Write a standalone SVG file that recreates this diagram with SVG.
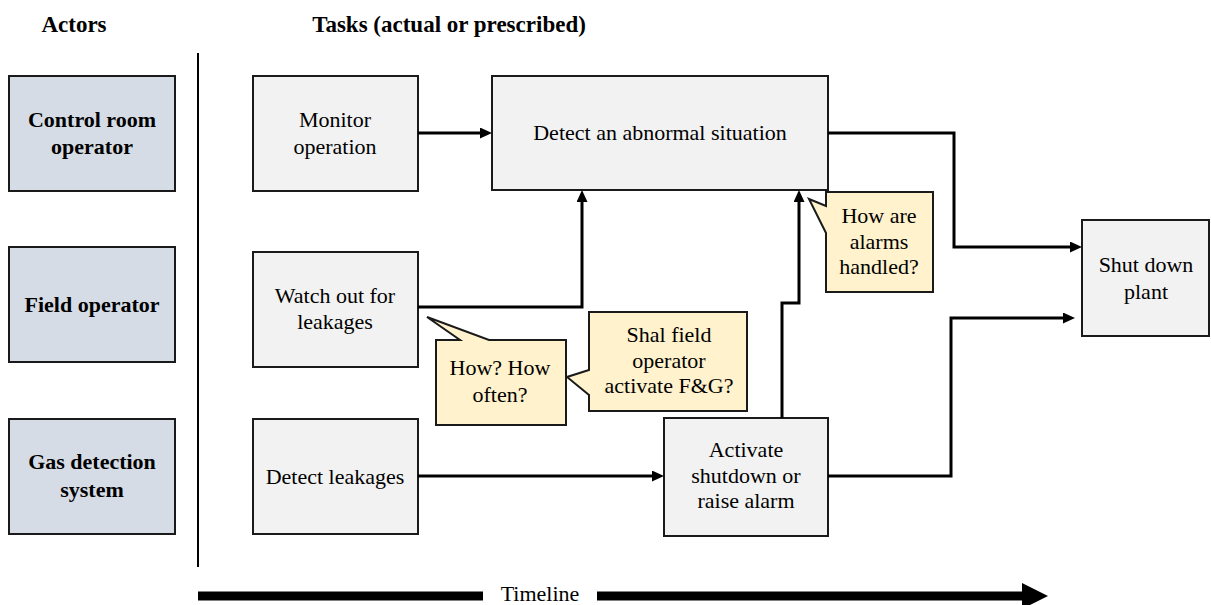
<svg xmlns="http://www.w3.org/2000/svg" width="1211" height="605" viewBox="0 0 1211 605">
<style>
.t{font-family:"Liberation Serif","Times New Roman",serif;font-size:22px;fill:#000;text-anchor:middle}
.b{font-weight:bold}
.h{font-family:"Liberation Serif","Times New Roman",serif;font-size:23px;font-weight:bold;fill:#000;text-anchor:middle}
.actor{fill:#d6dce5;stroke:#1a1a1a;stroke-width:2}
.task{fill:#f2f2f2;stroke:#1a1a1a;stroke-width:2}
.note{fill:#fff2cc;stroke:#1a1a1a;stroke-width:2;stroke-linejoin:miter}
.conn{fill:none;stroke:#000;stroke-width:3}
</style>
<defs>
<marker id="arr" viewBox="0 0 12 11" refX="5" refY="5.5" markerWidth="12" markerHeight="11" markerUnits="userSpaceOnUse" orient="auto">
<path d="M0,0 L12,5.5 L0,11 z" fill="#000"/>
</marker>
</defs>
<rect width="1211" height="605" fill="#fff"/>
<g id="headings">
<text class="h" x="74" y="32">Actors</text>
<text class="h" x="449" y="32">Tasks (actual or prescribed)</text>
</g>
<line id="divider" x1="198" y1="53" x2="198" y2="567" stroke="#000" stroke-width="2"/>
<g id="actor-control-room">
<rect class="actor" x="9" y="76" width="166" height="115"/>
<text class="t b" x="92" y="127">Control room</text>
<text class="t b" x="92" y="154">operator</text>
</g>
<g id="actor-field">
<rect class="actor" x="9" y="247" width="166" height="115"/>
<text class="t b" x="92" y="312">Field operator</text>
</g>
<g id="actor-gas">
<rect class="actor" x="9" y="419" width="166" height="115"/>
<text class="t b" x="92" y="469">Gas detection</text>
<text class="t b" x="92" y="497">system</text>
</g>
<g id="task-monitor">
<rect class="task" x="253" y="76" width="165" height="115"/>
<text class="t" x="335" y="127">Monitor</text>
<text class="t" x="335" y="154">operation</text>
</g>
<g id="task-watch">
<rect class="task" x="253" y="252" width="165" height="115"/>
<text class="t" x="335" y="303">Watch out for</text>
<text class="t" x="335" y="329">leakages</text>
</g>
<g id="task-detect-leakages">
<rect class="task" x="253" y="419" width="165" height="115"/>
<text class="t" x="335" y="484">Detect leakages</text>
</g>
<g id="task-detect-abnormal">
<rect class="task" x="492" y="76" width="336" height="114"/>
<text class="t" x="660" y="140">Detect an abnormal situation</text>
</g>
<g id="task-activate">
<rect class="task" x="664" y="418" width="164" height="118"/>
<text class="t" x="746" y="457">Activate</text>
<text class="t" x="746" y="483">shutdown or</text>
<text class="t" x="746" y="508">raise alarm</text>
</g>
<g id="task-shutdown">
<rect class="task" x="1082" y="220" width="127" height="116"/>
<text class="t" x="1146" y="272">Shut down</text>
<text class="t" x="1146" y="299">plant</text>
</g>
<g id="connectors">
<path class="conn" marker-end="url(#arr)" d="M418 133 H485"/>
<path class="conn" marker-end="url(#arr)" d="M418 307 H582 V197"/>
<path class="conn" marker-end="url(#arr)" d="M782 418 V303 H799 V197"/>
<path class="conn" marker-end="url(#arr)" d="M418 476 H657"/>
<path class="conn" marker-end="url(#arr)" d="M828 133 H954 V247 H1075"/>
<path class="conn" marker-end="url(#arr)" d="M828 476 H951 V318 H1068"/>
</g>
<g id="note-how-often">
<path class="note" d="M436 340 H460 L427 317 L489 340 H566 V425 H436 Z"/>
<text class="t" x="500" y="375">How? How</text>
<text class="t" x="500" y="402">often?</text>
</g>
<g id="note-fg">
<path class="note" d="M589 312 H747 V411 H589 V395 L567 377 L589 370 Z"/>
<text class="t" x="669" y="342">Shal field</text>
<text class="t" x="669" y="368">operator</text>
<text class="t" x="669" y="393">activate F&amp;G?</text>
</g>
<g id="note-alarms">
<path class="note" d="M826 192 H933 V292 H826 V233 L809 199 L826 206 Z"/>
<text class="t" x="879" y="223">How are</text>
<text class="t" x="879" y="249">alarms</text>
<text class="t" x="879" y="274">handled?</text>
</g>
<g id="timeline">
<rect x="198" y="591.5" width="285" height="9" fill="#000"/>
<text class="t" x="540" y="601">Timeline</text>
<rect x="597" y="591.5" width="426" height="9" fill="#000"/>
<path d="M1022 583 L1048 596 L1022 609 Z" fill="#000"/>
</g>
</svg>
